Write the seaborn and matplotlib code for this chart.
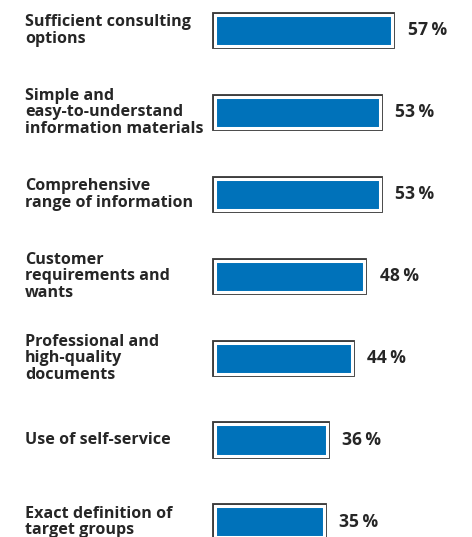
import matplotlib
matplotlib.use("Agg")
import matplotlib.pyplot as plt
import matplotlib.patheffects as pe
import matplotlib.transforms as mtransforms
import seaborn as sns
import pandas as pd

categories = [
    "Sufficient consulting\noptions",
    "Simple and\neasy-to-understand\ninformation materials",
    "Comprehensive\nrange of information",
    "Customer\nrequirements and\nwants",
    "Professional and\nhigh-quality\ndocuments",
    "Use of self-service",
    "Exact definition of\ntarget groups",
]
values = [57, 53, 53, 48, 44, 36, 35]

df = pd.DataFrame({"category": categories, "value": values})

sns.set_theme(style="white")
plt.rcParams["font.family"] = ["Open Sans", "DejaVu Sans"]

W, H, DPI = 472, 537, 100
fig = plt.figure(figsize=(W / DPI, H / DPI), dpi=DPI)
# data x=0 at ~214.5 px; ~3.12 px per unit
left = 214.5 / W
xmax = 80
ax = fig.add_axes([left, 0.0, xmax * 3.12 / W, 1.0])

sns.barplot(data=df, x="value", y="category", orient="h", color="#0072BA",
            saturation=1, width=0.38, ax=ax)

for p in ax.patches:
    p.set_facecolor("#0072BA")
    p.set_edgecolor("white")
    p.set_linewidth(2.2)
    p.set_path_effects([pe.Stroke(linewidth=4.2, foreground="#3a3a3a"), pe.Normal()])
    p.set_clip_on(False)

ax.set_xlim(0, xmax)
spacing = 81.9
top_center = 30.5
ax.set_ylim(6 + (H - top_center - 6 * spacing) / spacing, -top_center / spacing)
ax.set_axis_off()

txtcolor = "#262626"
trans = mtransforms.blended_transform_factory(fig.transFigure, ax.transData)
for i, (cat, v) in enumerate(zip(categories, values)):
    ax.text(25 / W, i, cat, transform=trans, ha="left", va="center",
            fontsize=11.6, fontweight="bold", color=txtcolor, linespacing=1.04)
    ax.annotate(f"{v}\u2009%", xy=(v, i), xytext=(11, 0), textcoords="offset points",
                ha="left", va="center", fontsize=12.6, fontweight="bold", color=txtcolor)

fig.savefig("out.png", dpi=DPI)
